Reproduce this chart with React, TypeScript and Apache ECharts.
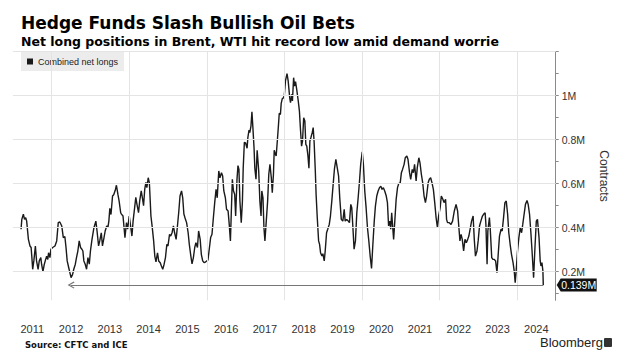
import React, { useEffect, useRef } from "react";
import * as echarts from "echarts";

const TITLE = "Hedge Funds Slash Bullish Oil Bets";
const SUBTITLE = "Net long positions in Brent, WTI hit record low amid demand worrie";
const SERIES_NAME = "Combined net longs";
const SOURCE = "Source: CFTC and ICE";
const BRAND = "Bloomberg";
const Y_NAME = "Contracts";

// decimal year of each observation
const YEARS = [
  2011.21, 2011.23, 2011.27, 2011.3, 2011.33, 2011.355, 2011.4, 2011.44, 2011.47, 2011.49, 2011.51, 2011.54,
  2011.58, 2011.61, 2011.65, 2011.68, 2011.72, 2011.74, 2011.775, 2011.81, 2011.845, 2011.87, 2011.9, 2011.92,
  2011.955, 2011.98, 2012.025, 2012.085, 2012.13, 2012.17, 2012.21, 2012.26, 2012.3, 2012.34, 2012.37, 2012.4,
  2012.44, 2012.47, 2012.5, 2012.54, 2012.57, 2012.61, 2012.64, 2012.675, 2012.71, 2012.745, 2012.78, 2012.805,
  2012.83, 2012.865, 2012.9, 2012.935, 2012.97, 2013.0, 2013.04, 2013.09, 2013.14, 2013.17, 2013.21, 2013.24,
  2013.28, 2013.31, 2013.35, 2013.38, 2013.42, 2013.45, 2013.475, 2013.5, 2013.53, 2013.57, 2013.6, 2013.64,
  2013.67, 2013.71, 2013.74, 2013.78, 2013.8, 2013.84, 2013.89, 2013.93, 2013.96, 2014.0, 2014.03, 2014.07,
  2014.1, 2014.14, 2014.17, 2014.2, 2014.24, 2014.27, 2014.31, 2014.34, 2014.37, 2014.4, 2014.43, 2014.455,
  2014.49, 2014.52, 2014.56, 2014.59, 2014.63, 2014.66, 2014.69, 2014.73, 2014.76, 2014.8, 2014.83, 2014.865,
  2014.9, 2014.935, 2014.97, 2015.0, 2015.04, 2015.07, 2015.105, 2015.14, 2015.17, 2015.21, 2015.24, 2015.28,
  2015.31, 2015.35, 2015.38, 2015.41, 2015.45, 2015.48, 2015.52, 2015.55, 2015.59, 2015.62, 2015.655, 2015.69,
  2015.72, 2015.76, 2015.79, 2015.83, 2015.86, 2015.895, 2015.93, 2015.965, 2016.0, 2016.03, 2016.07, 2016.1,
  2016.135, 2016.17, 2016.205, 2016.24, 2016.27, 2016.31, 2016.34, 2016.38, 2016.41, 2016.44, 2016.48, 2016.51,
  2016.55, 2016.58, 2016.61, 2016.66, 2016.69, 2016.72, 2016.745, 2016.78, 2016.805, 2016.83, 2016.855, 2016.89,
  2016.92, 2016.94, 2016.97, 2017.0, 2017.04, 2017.06, 2017.09, 2017.11, 2017.14, 2017.165, 2017.19, 2017.22,
  2017.24, 2017.27, 2017.3, 2017.34, 2017.37, 2017.4, 2017.42, 2017.45, 2017.475, 2017.5, 2017.535, 2017.57,
  2017.6, 2017.63, 2017.665, 2017.69, 2017.72, 2017.74, 2017.77, 2017.79, 2017.82, 2017.845, 2017.87, 2017.9,
  2017.92, 2017.95, 2017.97, 2018.0, 2018.03, 2018.07, 2018.1, 2018.14, 2018.16, 2018.19, 2018.21, 2018.24,
  2018.265, 2018.29, 2018.32, 2018.36, 2018.39, 2018.42, 2018.445, 2018.47, 2018.5, 2018.53, 2018.555, 2018.58,
  2018.61, 2018.635, 2018.66, 2018.685, 2018.72, 2018.745, 2018.77, 2018.8, 2018.82, 2018.85, 2018.885, 2018.91,
  2018.935, 2018.97, 2018.995, 2019.03, 2019.055, 2019.09, 2019.12, 2019.16, 2019.19, 2019.225, 2019.26, 2019.295,
  2019.33, 2019.365, 2019.4, 2019.43, 2019.47, 2019.51, 2019.545, 2019.57, 2019.61, 2019.65, 2019.68, 2019.715,
  2019.74, 2019.77, 2019.8, 2019.835, 2019.87, 2019.905, 2019.94, 2019.97, 2020.01, 2020.04, 2020.075, 2020.11,
  2020.145, 2020.18, 2020.215, 2020.25, 2020.28, 2020.32, 2020.35, 2020.385, 2020.42, 2020.455, 2020.49, 2020.52,
  2020.555, 2020.59, 2020.63, 2020.66, 2020.69, 2020.72, 2020.745, 2020.77, 2020.8, 2020.82, 2020.85, 2020.885,
  2020.92, 2020.95, 2020.99, 2021.02, 2021.05, 2021.09, 2021.12, 2021.16, 2021.19, 2021.23, 2021.26, 2021.3,
  2021.33, 2021.36, 2021.4, 2021.43, 2021.47, 2021.5, 2021.535, 2021.57, 2021.605, 2021.64, 2021.67, 2021.71,
  2021.74, 2021.775, 2021.81, 2021.845, 2021.88, 2021.915, 2021.95, 2021.98, 2022.02, 2022.05, 2022.09, 2022.12,
  2022.16, 2022.185, 2022.21, 2022.255, 2022.3, 2022.34, 2022.385, 2022.43, 2022.47, 2022.51, 2022.53, 2022.56,
  2022.59, 2022.625, 2022.66, 2022.695, 2022.73, 2022.76, 2022.8, 2022.83, 2022.87, 2022.9, 2022.93, 2022.97,
  2023.0, 2023.035, 2023.07, 2023.11, 2023.14, 2023.18, 2023.2, 2023.23, 2023.25, 2023.29, 2023.31, 2023.35,
  2023.38, 2023.415, 2023.45, 2023.485, 2023.52, 2023.55, 2023.59, 2023.62, 2023.655, 2023.69, 2023.725, 2023.76,
  2023.79, 2023.83, 2023.86, 2023.9, 2023.93, 2023.955, 2023.98, 2024.015, 2024.05, 2024.085, 2024.12, 2024.15,
  2024.185, 2024.22, 2024.26, 2024.29, 2024.325, 2024.36, 2024.39, 2024.43, 2024.465, 2024.5, 2024.53, 2024.57,
  2024.6, 2024.62, 2024.645, 2024.67, 2024.68,
];

// combined net longs, millions of contracts
const VALUES = [
  0.393, 0.438, 0.461, 0.438, 0.446, 0.43, 0.347, 0.317, 0.31, 0.264, 0.211, 0.249,
  0.317, 0.249, 0.211, 0.249, 0.264, 0.234, 0.2, 0.234, 0.256, 0.27, 0.256, 0.286,
  0.264, 0.302, 0.31, 0.317, 0.34, 0.423, 0.426, 0.408, 0.355, 0.36, 0.31, 0.249,
  0.218, 0.196, 0.173, 0.188, 0.211, 0.234, 0.264, 0.294, 0.34, 0.31, 0.302, 0.294,
  0.249, 0.234, 0.211, 0.264, 0.234, 0.294, 0.347, 0.4, 0.43, 0.385, 0.317, 0.34,
  0.377, 0.317, 0.355, 0.385, 0.408, 0.4, 0.43, 0.488, 0.46, 0.544, 0.55, 0.57,
  0.593, 0.55, 0.521, 0.468, 0.462, 0.453, 0.355, 0.423, 0.393, 0.453, 0.415, 0.362,
  0.43, 0.491, 0.538, 0.506, 0.468, 0.521, 0.567, 0.536, 0.5, 0.574, 0.606, 0.582,
  0.627, 0.604, 0.453, 0.408, 0.34, 0.271, 0.245, 0.286, 0.249, 0.241, 0.226, 0.211,
  0.234, 0.264, 0.324, 0.317, 0.37, 0.362, 0.377, 0.408, 0.377, 0.347, 0.4, 0.476,
  0.544, 0.567, 0.536, 0.462, 0.438, 0.423, 0.377, 0.324, 0.271, 0.236, 0.264, 0.31,
  0.332, 0.31, 0.385, 0.347, 0.279, 0.249, 0.241, 0.244, 0.249, 0.252, 0.31, 0.355,
  0.37, 0.444, 0.514, 0.574, 0.536, 0.658, 0.627, 0.65, 0.635, 0.567, 0.536, 0.484,
  0.476, 0.415, 0.34, 0.62, 0.567, 0.552, 0.453, 0.62, 0.682, 0.665, 0.521, 0.423,
  0.521, 0.67, 0.788, 0.786, 0.761, 0.809, 0.844, 0.832, 0.862, 0.927, 0.855, 0.761,
  0.67, 0.62, 0.752, 0.658, 0.521, 0.453, 0.567, 0.536, 0.4, 0.34, 0.43, 0.521,
  0.643, 0.688, 0.627, 0.559, 0.643, 0.752, 0.734, 0.726, 0.794, 0.855, 0.92, 0.915,
  0.965, 0.988, 0.988, 1.0, 1.067, 1.1, 1.067, 0.99, 0.968, 1.006, 0.976, 1.082,
  1.044, 1.064, 1.029, 0.976, 0.93, 0.839, 0.771, 0.794, 0.9, 0.885, 0.779, 0.771,
  0.726, 0.67, 0.794, 0.809, 0.832, 0.855, 0.786, 0.658, 0.552, 0.446, 0.34, 0.324,
  0.286, 0.271, 0.282, 0.249, 0.294, 0.377, 0.393, 0.415, 0.453, 0.521, 0.597, 0.67,
  0.711, 0.673, 0.635, 0.536, 0.438, 0.43, 0.484, 0.43, 0.438, 0.43, 0.423, 0.506,
  0.491, 0.4, 0.302, 0.34, 0.468, 0.536, 0.612, 0.688, 0.745, 0.688, 0.567, 0.491,
  0.4, 0.34, 0.271, 0.215, 0.31, 0.43, 0.498, 0.544, 0.567, 0.582, 0.589, 0.574,
  0.582, 0.567, 0.544, 0.514, 0.408, 0.43, 0.393, 0.468, 0.393, 0.347, 0.43, 0.529,
  0.582, 0.6, 0.604, 0.65, 0.665, 0.688, 0.718, 0.726, 0.711, 0.65, 0.62, 0.665,
  0.65, 0.688, 0.612, 0.673, 0.718, 0.695, 0.643, 0.604, 0.544, 0.514, 0.544, 0.604,
  0.62, 0.627, 0.604, 0.574, 0.514, 0.446, 0.4, 0.453, 0.491, 0.544, 0.529, 0.514,
  0.529, 0.438, 0.423, 0.423, 0.415, 0.43, 0.476, 0.506, 0.476, 0.385, 0.34, 0.37,
  0.347, 0.294, 0.347, 0.332, 0.347, 0.362, 0.4, 0.43, 0.453, 0.347, 0.271, 0.294,
  0.34, 0.408, 0.43, 0.453, 0.461, 0.468, 0.415, 0.234, 0.385, 0.446, 0.4, 0.264,
  0.256, 0.256, 0.249, 0.196, 0.286, 0.362, 0.393, 0.385, 0.446, 0.514, 0.521, 0.461,
  0.377, 0.317, 0.279, 0.241, 0.203, 0.15, 0.203, 0.294, 0.355, 0.4, 0.377, 0.415,
  0.461, 0.506, 0.524, 0.506, 0.462, 0.377, 0.294, 0.173, 0.31, 0.43, 0.438, 0.355,
  0.249, 0.226, 0.241, 0.203, 0.139,
];

const X_MIN = 2011;
const X_MAX = 2025;
const Y_MIN = 0.07;
const Y_MAX = 1.2;
const YEAR_LABELS = [2011, 2012, 2013, 2014, 2015, 2016, 2017, 2018, 2019, 2020, 2021, 2022, 2023, 2024];
const X_GRID = [2012, 2014, 2016, 2018, 2020, 2022, 2024];
const Y_GRID = [0.2, 0.4, 0.6, 0.8, 1.0, 1.2];
const Y_LABELS = [0.2, 0.4, 0.6, 0.8, 1.0];
const Y_TICKS = [0.1, 0.2, 0.3, 0.4, 0.5, 0.6, 0.7, 0.8, 0.9, 1.0, 1.1, 1.2];
const ARROW_FROM = 2012.5;

const LAST_YEAR = YEARS[YEARS.length - 1];
const LOW_VALUE = VALUES[VALUES.length - 1];

const SANS = "'Liberation Sans', Arial, sans-serif";
const HEAVY = "'DejaVu Sans', Verdana, sans-serif";

const CHEVRON = "path://M5,0 L10,8 L8.8,9 L5,3 L1.2,9 L0,8 Z";
const TAG = "path://M0,6 L4,0 L40,0 L40,12 L4,12 Z";

function fmtM(v: number) {
  return (Math.round(v * 10) / 10 === 1 ? "1" : v.toFixed(1)) + "M";
}

export default function App() {
  const ref = useRef<HTMLDivElement>(null);
  useEffect(() => {
    const chart = echarts.init(ref.current as HTMLDivElement, null, { renderer: "svg" });
    const data = YEARS.map((y, i) => [y, VALUES[i]]);
    chart.setOption({
      animation: false,
      backgroundColor: "#ffffff",
      title: [
        {
          text: TITLE,
          left: 21,
          top: 14,
          padding: 0,
          textStyle: { fontFamily: HEAVY, fontWeight: "bold", fontSize: 17, color: "#000" },
        },
        {
          text: SUBTITLE,
          left: 21,
          top: 35,
          padding: 0,
          textStyle: { fontFamily: HEAVY, fontWeight: "bold", fontSize: 12.5, color: "#000" },
        },
      ],
      legend: {
        data: [SERIES_NAME],
        left: 21,
        top: 52,
        padding: [5, 6, 5, 6],
        backgroundColor: "#ececec",
        icon: "rect",
        itemWidth: 6,
        itemHeight: 6,
        selectedMode: false,
        textStyle: { fontFamily: SANS, fontSize: 9, color: "#222" },
      },
      grid: { left: 12.9, right: 68.3, top: 51.7, bottom: 50.7 },
      xAxis: {
        type: "value",
        min: X_MIN,
        max: X_MAX,
        axisLine: { show: false },
        axisTick: { show: false },
        splitLine: { show: false },
        axisLabel: {
          customValues: YEAR_LABELS.map((y) => y + 0.5),
          formatter: (v: number) => String(Math.floor(v)),
          margin: 23,
          fontFamily: SANS,
          fontSize: 11,
          color: "#333",
        },
      },
      yAxis: {
        type: "value",
        position: "right",
        min: Y_MIN,
        max: Y_MAX,
        name: Y_NAME,
        nameLocation: "middle",
        nameRotate: -90,
        nameGap: 42,
        nameTextStyle: { fontFamily: SANS, fontSize: 12, color: "#333" },
        axisLine: { show: true, lineStyle: { color: "#8a8a8a", width: 1 } },
        axisTick: { show: true, length: 3, customValues: Y_TICKS, lineStyle: { color: "#8a8a8a" } },
        splitLine: { show: false },
        axisLabel: {
          customValues: Y_LABELS,
          formatter: (v: number) => fmtM(v),
          margin: 6,
          fontFamily: SANS,
          fontSize: 10.5,
          color: "#333",
        },
      },
      graphic: [
        {
          type: "text",
          left: 25,
          top: 340,
          style: { text: SOURCE, fontFamily: HEAVY, fontWeight: "bold", fontSize: 8.5, fill: "#111" },
        },
        {
          type: "text",
          left: 540,
          top: 336,
          style: { text: BRAND, fontFamily: SANS, fontSize: 13, fill: "#222" },
        },
        {
          type: "rect",
          left: 604,
          top: 338,
          shape: { width: 8, height: 9, r: 1 },
          style: { fill: "#333" },
        },
      ],
      series: [
        {
          type: "line",
          name: "grid",
          data: [],
          z: 1,
          silent: true,
          markLine: {
            silent: true,
            symbol: "none",
            label: { show: false },
            lineStyle: { color: "#e4e4e4", width: 1, type: "solid" },
            data: [...Y_GRID.map((v) => ({ yAxis: v })), ...X_GRID.map((v) => ({ xAxis: v }))],
          },
        },
        {
          type: "line",
          name: SERIES_NAME,
          data,
          z: 3,
          showSymbol: false,
          symbol: "none",
          color: "#1a1a1a",
          lineStyle: { color: "#1a1a1a", width: 1.4 },
          markLine: {
            silent: true,
            symbol: [CHEVRON, "none"],
            symbolSize: [7, 7],
            label: { show: false },
            lineStyle: { color: "#777", width: 1, type: "solid" },
            data: [[{ coord: [ARROW_FROM, LOW_VALUE] }, { coord: [LAST_YEAR, LOW_VALUE] }]],
          },
          markPoint: {
            symbol: TAG,
            symbolSize: [40, 13],
            symbolKeepAspect: false,
            symbolOffset: [21, 0],
            itemStyle: { color: "#111" },
            label: {
              show: true,
              formatter: LOW_VALUE.toFixed(3) + "M",
              color: "#fff",
              fontFamily: SANS,
              fontSize: 10.5,
              offset: [2, 0],
            },
            data: [{ coord: [X_MAX, LOW_VALUE], value: LOW_VALUE }],
          },
        },
      ],
    });
    return () => chart.dispose();
  }, []);
  return <div ref={ref} style={{ position: "fixed", left: 0, top: 0, width: 624, height: 351 }} />;
}
